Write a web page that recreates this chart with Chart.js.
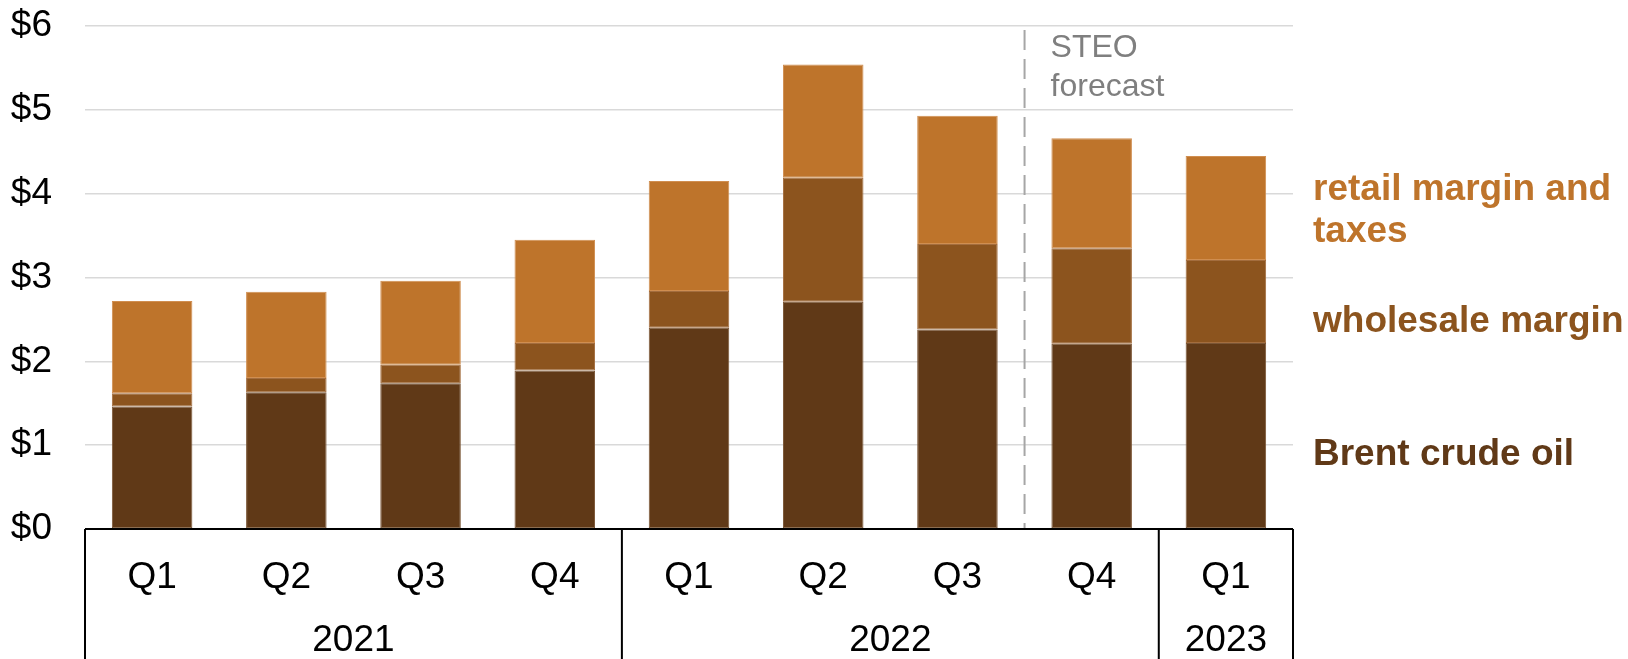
<!DOCTYPE html>
<html>
<head>
<meta charset="utf-8">
<title>Gasoline price components</title>
<script src="https://cdn.jsdelivr.net/npm/chart.js@4.4.1/dist/chart.umd.min.js"></script>
<style>
  html, body { margin: 0; padding: 0; background: #ffffff; }
  #wrap { width: 1628px; height: 659px; }
</style>
</head>
<body>
<div id="wrap"><canvas id="c" width="1628" height="659"></canvas></div>
<script>
// Quarterly categories and their year groups
const quarters = ['Q1', 'Q2', 'Q3', 'Q4', 'Q1', 'Q2', 'Q3', 'Q4', 'Q1'];
const yearGroups = [
  { label: '2021', from: 0, to: 3 },
  { label: '2022', from: 4, to: 7 },
  { label: '2023', from: 8, to: 8 }
];
// Components of the retail gasoline price, dollars per gallon
const brentCrude      = [1.46, 1.63, 1.74, 1.89, 2.40, 2.71, 2.38, 2.21, 2.22];
const wholesaleMargin = [0.16, 0.17, 0.22, 0.33, 0.44, 1.48, 1.02, 1.14, 0.99];
const retailAndTaxes  = [1.10, 1.03, 1.00, 1.23, 1.31, 1.35, 1.53, 1.31, 1.24];
const yTicks = [0, 1, 2, 3, 4, 5, 6];
// Forecast starts after this category index
const forecastStart = 7;

const FONT = "'Liberation Sans', Arial, sans-serif";
const COL_CRUDE = '#603917';
const COL_WHOLESALE = '#8C541E';
const COL_RETAIL = '#BE742B';
// slightly lighter outlines for each segment
const EDGE_CRUDE = '#7A5535';
const EDGE_WHOLESALE = '#A36D3E';
const EDGE_RETAIL = '#D08E50';

const annotations = {
  id: 'annotations',
  afterDraw(chart) {
    const ctx = chart.ctx;
    const x = chart.scales.x;
    const area = chart.chartArea;
    const H = chart.height;
    const half = (x.getPixelForValue(1) - x.getPixelForValue(0)) / 2;
    ctx.save();

    // forecast divider
    const fx = x.getPixelForValue(forecastStart) - half;
    ctx.strokeStyle = '#A6A6A6';
    ctx.lineWidth = 2;
    ctx.setLineDash([20, 9]);
    ctx.beginPath();
    ctx.moveTo(fx, area.top + 4);
    ctx.lineTo(fx, area.bottom);
    ctx.stroke();
    ctx.setLineDash([]);

    ctx.fillStyle = '#7F7F7F';
    ctx.font = '32px ' + FONT;
    ctx.textAlign = 'left';
    ctx.textBaseline = 'alphabetic';
    ctx.fillText('STEO', fx + 26, area.top + 31);
    ctx.fillText('forecast', fx + 26, area.top + 70);

    // category box below the axis
    ctx.strokeStyle = '#000000';
    ctx.lineWidth = 2;
    ctx.beginPath();
    ctx.moveTo(area.left, area.bottom);
    ctx.lineTo(area.right, area.bottom);
    yearGroups.forEach(g => {
      const l = x.getPixelForValue(g.from) - half;
      ctx.moveTo(l, area.bottom);
      ctx.lineTo(l, H);
    });
    const last = yearGroups[yearGroups.length - 1];
    const r = x.getPixelForValue(last.to) + half;
    ctx.moveTo(r, area.bottom);
    ctx.lineTo(r, H);
    ctx.stroke();

    ctx.fillStyle = '#000000';
    ctx.font = '37px ' + FONT;
    ctx.textAlign = 'center';
    ctx.textBaseline = 'middle';
    yearGroups.forEach(g => {
      const cx = (x.getPixelForValue(g.from) + x.getPixelForValue(g.to)) / 2;
      ctx.fillText(g.label, cx, area.bottom + 112);
    });

    // series labels at the right
    ctx.font = 'bold 37px ' + FONT;
    ctx.textAlign = 'left';
    ctx.textBaseline = 'alphabetic';
    const lx = area.right + 20;
    ctx.fillStyle = COL_RETAIL;
    ctx.fillText('retail margin and', lx, area.top + 174);
    ctx.fillText('taxes', lx, area.top + 216);
    ctx.fillStyle = COL_WHOLESALE;
    ctx.fillText('wholesale margin', lx, area.top + 306);
    ctx.fillStyle = COL_CRUDE;
    ctx.fillText('Brent crude oil', lx, area.top + 439);
    ctx.restore();
  }
};

const barStyle = {
  borderWidth: 1,
  borderSkipped: false,
  categoryPercentage: 1.0,
  barPercentage: 0.6
};

new Chart(document.getElementById('c'), {
  type: 'bar',
  data: {
    labels: quarters,
    datasets: [
      Object.assign({ label: 'Brent crude oil', data: brentCrude,
        backgroundColor: COL_CRUDE, borderColor: EDGE_CRUDE }, barStyle),
      Object.assign({ label: 'wholesale margin', data: wholesaleMargin,
        backgroundColor: COL_WHOLESALE, borderColor: EDGE_WHOLESALE }, barStyle),
      Object.assign({ label: 'retail margin and taxes', data: retailAndTaxes,
        backgroundColor: COL_RETAIL, borderColor: EDGE_RETAIL }, barStyle)
    ]
  },
  options: {
    responsive: false,
    animation: false,
    devicePixelRatio: 1,
    layout: { padding: { top: 26, right: 335, bottom: 0, left: 0 } },
    plugins: { legend: { display: false }, tooltip: { enabled: false } },
    scales: {
      x: {
        stacked: true,
        grid: { display: false },
        border: { display: false },
        ticks: {
          color: '#000000',
          font: { family: FONT, size: 37 },
          padding: 19,
          maxRotation: 0
        },
        afterFit(scale) { scale.height = 130; }
      },
      y: {
        stacked: true,
        min: yTicks[0],
        max: yTicks[yTicks.length - 1],
        afterBuildTicks(scale) { scale.ticks = yTicks.map(v => ({ value: v })); },
        grid: { color: '#D9D9D9', lineWidth: 1.4, drawTicks: false },
        border: { display: false },
        ticks: {
          color: '#000000',
          font: { family: FONT, size: 37 },
          padding: 33,
          callback: v => '$' + v
        },
        afterFit(scale) {
          scale.width = 85;
          scale.paddingTop = 0;
          scale.paddingBottom = 0;
        }
      }
    }
  },
  plugins: [annotations]
});
</script>
</body>
</html>
